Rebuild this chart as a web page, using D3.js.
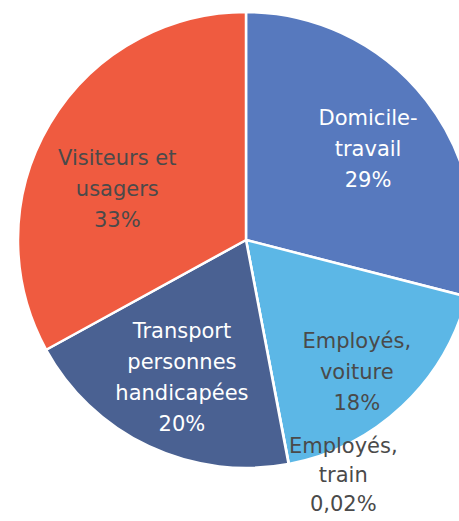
<!DOCTYPE html>
<html lang="fr">
<head>
<meta charset="UTF-8">
<title>Répartition</title>
<script src="https://cdn.jsdelivr.net/npm/d3@7/dist/d3.min.js"></script>
<style>
  body { margin: 0; background: #fff; }
  text { font-family: "Century Gothic", "DejaVu Sans", sans-serif; }
</style>
</head>
<body>
<svg width="459" height="521" id="mainsvg"></svg>
<script>
  // data
  const categories = ['Domicile-travail', 'Employés, voiture', 'Employés, train',
    'Transport personnes handicapées', 'Visiteurs et usagers'];
  const values = [29, 18, 0.02, 20, 33];
  const valueLabels = ['29%', '18%', '0,02%', '20%', '33%'];
  const labelLines = [
    ['Domicile-', 'travail'],
    ['Employés,', 'voiture'],
    ['Employés,', 'train'],
    ['Transport', 'personnes', 'handicapées'],
    ['Visiteurs et', 'usagers']
  ];

  const colors = ['#5779be', '#5cb7e6', '#3f6fb0', '#4a6192', '#ef5b40'];
  const textColors = ['#ffffff', '#4a4a4a', '#4a4a4a', '#ffffff', '#4a4a4a'];
  // label radius (fraction of pie radius) and nudge per slice
  const labelR = [0.65, 0.78, 1.13, 0.68, 0.61];
  const labelNudge = [[5, 0], [-11, 2], [49, -18], [2, -3], [-9, 20]];
  const labelLineH = [31, 31, 29, 31, 31];

  const svg = d3.select('#mainsvg');
  const cx = 246, cy = 240, radius = 228;
  const g = svg.append('g').attr('transform', `translate(${cx},${cy})`);

  const pie = d3.pie().sort(null).value(d => d.value);
  const arcs = pie(categories.map((c, i) => ({ name: c, value: values[i], i })));
  const arc = d3.arc().innerRadius(0).outerRadius(radius);

  g.selectAll('path').data(arcs).enter().append('path')
    .attr('d', arc)
    .attr('fill', d => colors[d.data.i])
    .attr('stroke', '#fff')
    .attr('stroke-width', 2.5)
    .attr('stroke-linejoin', 'round');

  arcs.forEach(d => {
    const i = d.data.i;
    const lineH = labelLineH[i];
    const r = radius * labelR[i];
    const lArc = d3.arc().innerRadius(r).outerRadius(r);
    let [x, y] = lArc.centroid(d);
    x += labelNudge[i][0];
    y += labelNudge[i][1];
    const lines = labelLines[i].concat([valueLabels[i]]);
    const t = g.append('text')
      .attr('text-anchor', 'middle')
      .attr('font-size', 21)
      .attr('fill', textColors[i]);
    const y0 = y - (lines.length - 1) * lineH / 2 + 7;
    lines.forEach((s, k) => {
      t.append('tspan').attr('x', x).attr('y', y0 + k * lineH).text(s);
    });
  });
</script>
</body>
</html>
